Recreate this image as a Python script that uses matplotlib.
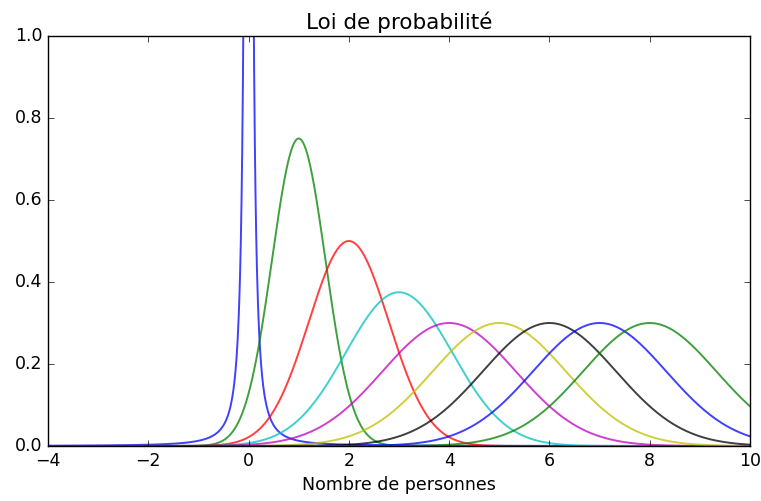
import matplotlib
matplotlib.use("Agg")
import matplotlib.pyplot as plt
import numpy as np

# values
centres = [0, 1, 2, 3, 4, 5, 6, 7, 8]
peak_heights = [None, 0.75, 0.5, 0.375, 0.3, 0.3, 0.3, 0.3, 0.3]
spike_halfwidth = 0.04  # the first curve is a very narrow, heavy tailed peak
colours = ['b', 'g', 'r', 'c', 'm', 'y', 'k', 'b', 'g']

x_range = (-4, 10)
y_range = (0, 1.0)
x_ticks = [-4, -2, 0, 2, 4, 6, 8, 10]
y_ticks = [0.0, 0.2, 0.4, 0.6, 0.8, 1.0]


def main():
    plt.style.use('classic')
    plt.rcParams['figure.facecolor'] = 'white'
    plt.rcParams['savefig.facecolor'] = 'white'

    fig = plt.figure(figsize=(7.61, 5.01), dpi=100)
    ax = fig.add_axes([48 / 761, 1 - 446 / 501, 702 / 761, 410 / 501])

    x = np.linspace(x_range[0], x_range[1], 2000)
    for c, h, col in zip(centres, peak_heights, colours):
        if h is None:
            g = spike_halfwidth
            y = 1.0 / (np.pi * g * (1 + ((x - c) / g) ** 2))
        else:
            s = 1.0 / (h * np.sqrt(2 * np.pi))
            y = h * np.exp(-0.5 * ((x - c) / s) ** 2)
        ax.plot(x, y, color=col, lw=1.4, alpha=0.75)

    ax.set_xlim(*x_range)
    ax.set_ylim(*y_range)
    ax.set_xticks(x_ticks)
    ax.set_yticks(y_ticks)
    ax.tick_params(labelsize=12.5)
    ax.set_title("Loi de probabilité", fontsize=15.5)
    ax.set_xlabel("Nombre de personnes", fontsize=12.5)

    fig.savefig("out.png", dpi=100)


if __name__ == "__main__":
    main()
